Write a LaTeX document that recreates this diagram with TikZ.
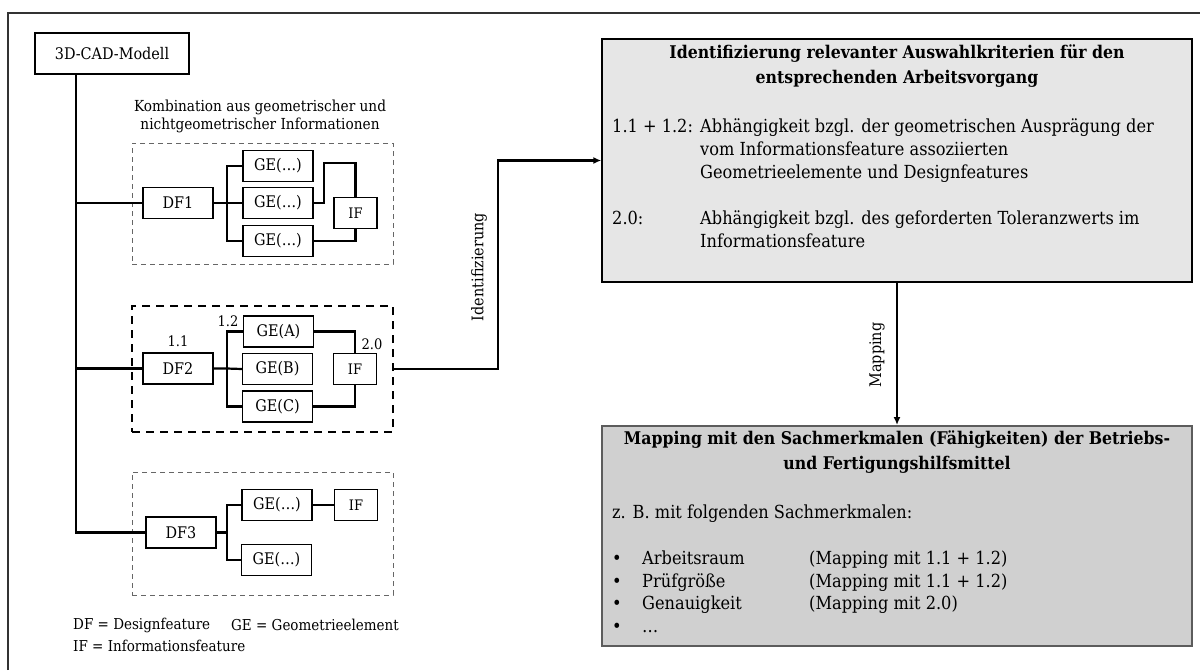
\documentclass[tikz,border=0pt]{standalone}
\usepackage{fontspec}
\setmainfont{DejaVu Serif Condensed}
\usetikzlibrary{arrows.meta,calc}

\newcommand{\txtS}{\fontsize{14.5}{18}\selectfont}
\newcommand{\txtK}{\fontsize{15.2}{18}\selectfont}
\newcommand{\txtM}{\fontsize{16}{18}\selectfont}
\newcommand{\txtL}{\fontsize{18}{23}\selectfont}
\newcommand{\txtT}{\fontsize{17.5}{25}\selectfont\bfseries}
\newcommand{\txtList}{\fontsize{18}{22.8}\selectfont}
\definecolor{critfill}{HTML}{E6E6E6}
\definecolor{mapfill}{HTML}{D0D0D0}
\definecolor{rimgray}{HTML}{5C5C5C}

\begin{document}
\begin{tikzpicture}[x=1pt,y=-1pt,
	elem/.style={draw,line width=1.3pt,minimum width=70pt,minimum height=31pt,inner sep=0pt,font=\txtM},
	infobox/.style={elem,minimum width=43pt,font=\txtS},
	group/.style={draw=black!60,line width=0.9pt,dash pattern=on 5pt off 4pt,minimum width=261pt,inner sep=0pt},
	groupsel/.style={group,draw=black,line width=1.8pt,dash pattern=on 8pt off 6pt},
	bigbox/.style={draw,line width=1.4pt,minimum width=590pt,inner sep=0pt},
	link/.style={line width=2.2pt},
	flow/.style={link,-{Latex[length=8pt,width=7pt]}},
	legend/.style={font=\fontsize{15}{18}\selectfont,anchor=west,inner sep=0pt},
	head/.style={inner sep=0pt,font=\txtT,align=center,anchor=north,execute at begin node=\strut},
	body/.style={inner sep=0pt,anchor=north west}
	]
	\useasboundingbox (0,0) rectangle (1200,670);
	\draw[line width=2.2pt,black!80] (8,670) -- (8,13) -- (1200,13);
	
	\node[elem,minimum width=154pt,minimum height=41pt] (cad) at (112,53.5) {3D-CAD-Modell};
	\coordinate (trunk) at ($(cad.south west)+(42,0)$);
	
	\node[font=\txtK,align=center] (kombi) at (260,116) {Kombination aus geometrischer und\\nichtgeometrischer Informationen};
	
	\node[group,minimum height=121pt] (grp1) at (262.5,203.5) {};
	\node[groupsel,minimum height=126pt] (grp2) at (262.5,369) {};
	\node[group,minimum height=123pt] (grp3) at (262.5,533.5) {};
	
	\node[elem] (df1) at (178,203) {DF1};
	\node[elem] (ge11) at (278,166) {GE(…)};
	\node[elem] (ge12) at (278,203) {GE(…)};
	\node[elem] (ge13) at (278,241) {GE(…)};
	\node[infobox] (if1) at (355.5,213) {IF};
	
	\node[elem] (df2) at (178,368.5) {DF2};
	\node[elem] (ge21) at (278.5,331.5) {GE(A)};
	\node[elem] (ge22) at (277.5,369) {GE(B)};
	\node[elem] (ge23) at (277.5,406.5) {GE(C)};
	\node[infobox] (if2) at (355,369) {IF};
	\node[font=\txtS] (n11) at (178,341) {1.1};
	\node[font=\txtS] (n12) at (228,321) {1.2};
	\node[font=\txtS] (n20) at (372,344) {2.0};
	
	\node[elem] (df3) at (181,532.5) {DF3};
	\node[elem] (ge31) at (277,505) {GE(…)};
	\node[elem] (ge32) at (276.5,560) {GE(…)};
	\node[infobox] (if3) at (356,505) {IF};
	
	\draw[link] (trunk) |- (df3.west);
	\draw[link] (df1.west) -- (df1.west -| trunk);
	\draw[link] (df2.west) -- (df2.west -| trunk);
	
	\coordinate (j1) at ($(df1.east)+(13,0)$);
	\draw[link] (df1.east) -- (j1) -- (ge12.west);
	\draw[link] (ge11.west) -| (j1) |- (ge13.west);
	\draw[link] (ge12.east) -| ++(10,-40) -| (if1.north);
	\draw[link] (ge13.east) -| (if1.south);
	
	\coordinate (j2) at ($(df2.east)+(13,0)$);
	\draw[link] (df2.east) -- (j2) -- (ge22.west);
	\draw[link] (ge21.west) -| (j2) |- (ge23.west);
	\draw[link] (ge21.east) -| (if2.north);
	\draw[link] (ge23.east) -| (if2.south);
	
	\coordinate (j3) at ($(df3.east)+(10,0)$);
	\draw[link] (df3.east) -- (j3);
	\draw[link] (ge31.west) -| (j3) |- (ge32.west);
	\draw[link] (ge31.east) -- (if3.west);
	
	\node[legend] (lgdf) at (73,625) {DF = Designfeature};
	\node[legend] (lgge) at (231,625) {GE = Geometrieelement};
	\node[legend] (lgif) at (73,646) {IF = Informationsfeature};
	
	\node[bigbox,fill=critfill,minimum height=243pt] (crit) at (897,160.5) {};
	\node[head] (crittitle) at (897,44.5) {Identifizierung relevanter Auswahlkriterien für den\\entsprechenden Arbeitsvorgang};
	\node[body,font=\txtL] (critbody) at (612,116.4) {%
		\begin{tabular}{@{}p{88pt}@{}l@{}}
			1.1 + 1.2: & Abhängigkeit bzgl. der geometrischen Ausprägung der\\
			& vom Informationsfeature assoziierten\\
			& Geometrieelemente und Designfeatures\\
			& \\
			2.0: & Abhängigkeit bzgl. des geforderten Toleranzwerts im\\
			& Informationsfeature
		\end{tabular}};
	
	\node[bigbox,draw=rimgray,line width=2pt,fill=mapfill,minimum height=220pt] (map) at (897,536) {};
	\node[head] (maptitle) at (897,431) {Mapping mit den Sachmerkmalen (Fähigkeiten) der Betriebs-\\und Fertigungshilfsmittel};
	\node[body,font=\txtList] (mapbody) at (612,502.5) {%
		\begin{tabular}{@{}p{30pt}@{}p{167pt}@{}l@{}}
			\multicolumn{3}{@{}l@{}}{z. B. mit folgenden Sachmerkmalen:}\\
			& & \\
			• & Arbeitsraum & (Mapping mit 1.1 + 1.2)\\
			• & Prüfgröße & (Mapping mit 1.1 + 1.2)\\
			• & Genauigkeit & (Mapping mit 2.0)\\
			• & … &
		\end{tabular}};
	
	\draw[flow] (grp2.east) -- ++(104,0) |- (crit.west);
	\node[font=\txtM,rotate=90] (lblid) at (479,267) {Identifizierung};
	\draw[flow] (crit.south) -- (map.north);
	\node[font=\txtM,rotate=90] (lblmap) at (877,355) {Mapping};
\end{tikzpicture}
\end{document}
